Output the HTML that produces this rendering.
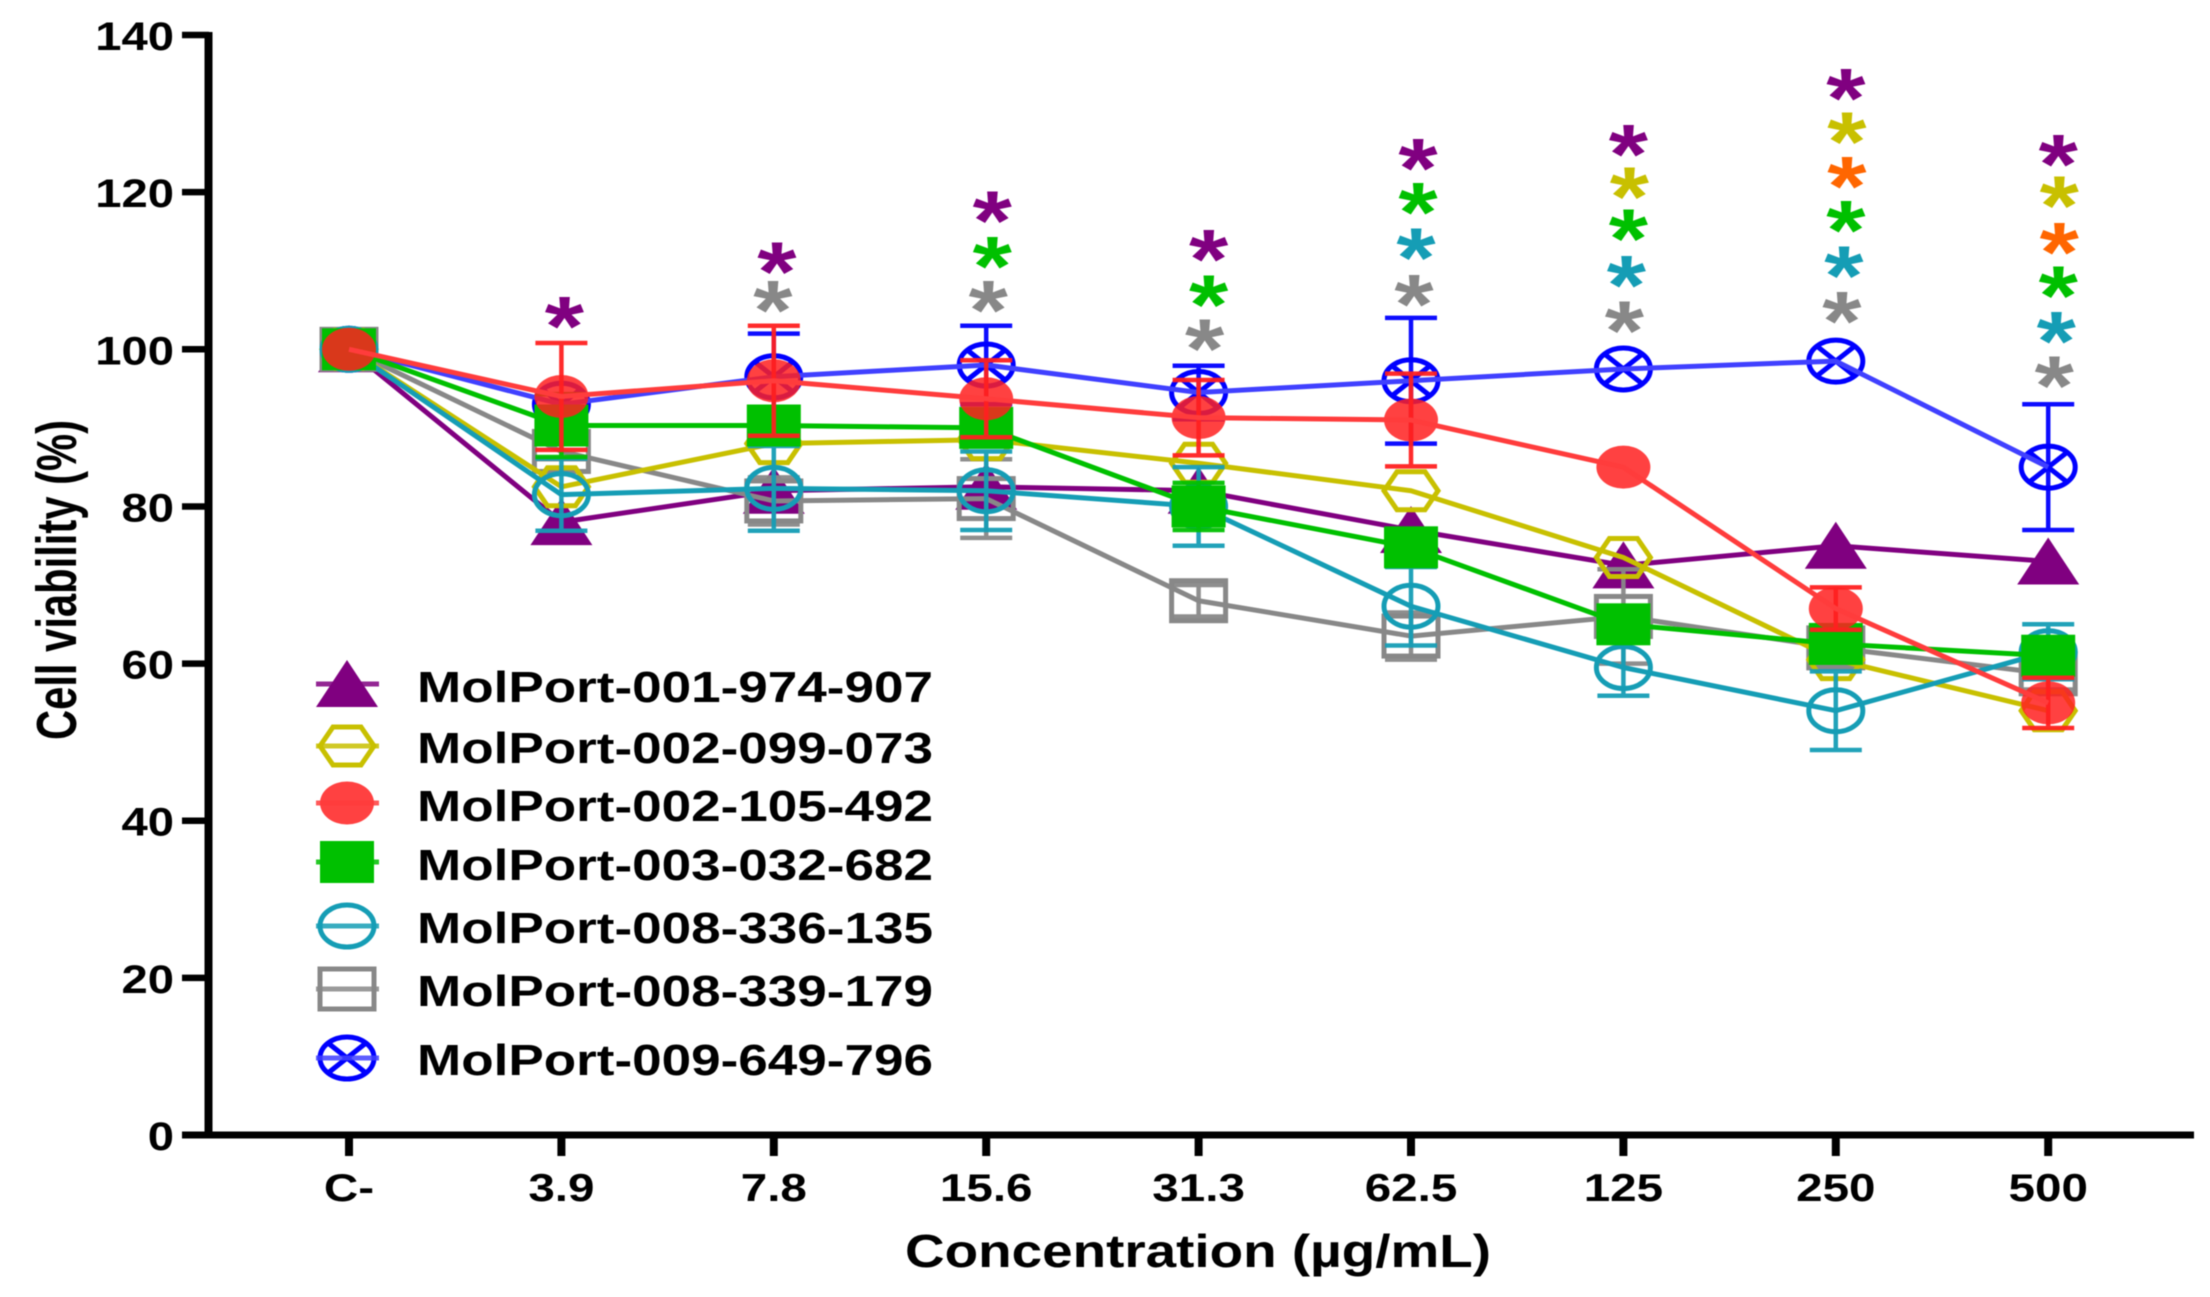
<!DOCTYPE html>
<html lang="en">
<head>
<meta charset="utf-8">
<title>Cell viability chart</title>
<style>
html,body{margin:0;padding:0;background:#fff;width:2210px;height:1297px;overflow:hidden}
svg{display:block;font-family:"Liberation Sans",sans-serif;font-weight:bold;filter:blur(0.5px)}
</style>
</head>
<body>
<svg id="chart" xmlns="http://www.w3.org/2000/svg" width="2210" height="1297" viewBox="0 0 2210 1297">
  <rect x="0" y="0" width="2210" height="1297" fill="#fff"/>
  <g id="stars"></g>
  <g id="plot"></g>
  <g id="axes"></g>
  <g id="legend"></g>
  <text transform="translate(76,740) rotate(-90)" font-size="57" textLength="320" lengthAdjust="spacingAndGlyphs" fill="#000">Cell viability (%)</text>
  <text x="905" y="1267" font-size="46" textLength="586" lengthAdjust="spacingAndGlyphs" fill="#000">Concentration (µg/mL)</text>
</svg>
<script>
const categories = ['C-','3.9','7.8','15.6','31.3','62.5','125','250','500'];
const yTickValues = [0,20,40,60,80,100,120,140];

const names974 = 'MolPort-001-974-907';
const names099 = 'MolPort-002-099-073';
const names105 = 'MolPort-002-105-492';
const names032 = 'MolPort-003-032-682';
const names336 = 'MolPort-008-336-135';
const names339 = 'MolPort-008-339-179';
const names649 = 'MolPort-009-649-796';

const values974 = [100,78,82,82.5,82,77,72.5,75,73];
const values099 = [100,82.5,88,88.5,85.5,82,73.5,60.5,54];
const values105 = [100,94,96,93.7,91.3,91,85,67,55];
const values032 = [100,90.3,90.3,90,80,74.8,65,62.5,61];
const values336 = [100,81.5,82.3,82,80,67.3,59.5,54,61.5];
const values339 = [100,87,80.7,81,68,63.5,66,62,58.7];
const values649 = [100,93,96.5,98,94.5,96,97.5,98.5,85];

const errors974 = [0,0,0,0,0,0,0,0,0];
const errors099 = [0,0,0,0,0,0,0,0,0];
const errors105 = [0,6.8,7,4.9,4.8,5.9,0,2.7,3.2];
const errors032 = [0,4,1,1.5,3,0,0,1,1];
const errors336 = [0,4.6,5.4,5,5,5,3.6,5,3.5];
const errors339 = [0,1,3,5,2,3,6,2,2];
const errors649 = [0,0,5.5,5,3.4,8,0,0,8];

const stars974 = [null,104.5,111.4,117.9,113,124.6,126.4,133.5,125.1];
const stars099 = [null,null,null,null,null,null,121,128,119.8];
const stars105 = [null,null,null,null,null,null,null,122.3,113.9];
const stars032 = [null,null,null,112.1,107.2,119,115.6,116.7,108.4];
const stars336 = [null,null,null,null,null,113.2,109.7,110.9,102.6];
const stars339 = [null,null,106.5,106.5,101.6,107.3,103.9,105.1,96.9];

const NS = 'http://www.w3.org/2000/svg';
const xScale = i => 349 + 212.4 * i;
const yScale = v => 1135 - 7.857 * v;

function make(parent, tag, attrs) {
  const el = document.createElementNS(NS, tag);
  for (const k in attrs) el.setAttribute(k, attrs[k]);
  parent.appendChild(el);
  return el;
}

function drawMarker(parent, kind, color, cx, cy) {
  const g = make(parent, 'g', {});
  
  
  const open = {fill:'none', stroke:color, 'stroke-width':5};
  if (kind === 'triangle') {
    make(g, 'polygon', {points:`${cx},${cy-24} ${cx+31},${cy+23} ${cx-31},${cy+23}`, fill:color});
  } else if (kind === 'hexagon') {
    make(g, 'polygon', Object.assign({points:`${cx-27},${cy} ${cx-14},${cy-19} ${cx+14},${cy-19} ${cx+27},${cy} ${cx+14},${cy+19} ${cx-14},${cy+19}`}, open));
  } else if (kind === 'dot') {
    make(g, 'ellipse', {cx:cx, cy:cy, rx:27, ry:21.5, fill:color, 'fill-opacity':0.85});
  } else if (kind === 'square') {
    make(g, 'rect', {x:cx-27, y:cy-21, width:54, height:42, fill:color});
  } else if (kind === 'circle') {
    make(g, 'ellipse', Object.assign({cx:cx, cy:cy, rx:27, ry:21}, open));
  } else if (kind === 'box') {
    make(g, 'rect', Object.assign({x:cx-27, y:cy-20, width:54, height:40}, open));
  } else if (kind === 'xcircle') {
    make(g, 'ellipse', Object.assign({cx:cx, cy:cy, rx:27, ry:21}, open));
    make(g, 'line', {x1:cx-19, y1:cy-15, x2:cx+19, y2:cy+15, stroke:color, 'stroke-width':5});
    make(g, 'line', {x1:cx-19, y1:cy+15, x2:cx+19, y2:cy-15, stroke:color, 'stroke-width':5});
  }
}

const seriesList = [
  {key:'974', name:names974, values:values974, errors:errors974, color:'#800080', line:'#800080', kind:'triangle'},
  {key:'099', name:names099, values:values099, errors:errors099, color:'#c8c000', line:'#c8c000', kind:'hexagon'},
  {key:'105', name:names105, values:values105, errors:errors105, color:'#ff2020', line:'#ff3c3c', kind:'dot'},
  {key:'032', name:names032, values:values032, errors:errors032, color:'#00c000', line:'#00c000', kind:'square'},
  {key:'336', name:names336, values:values336, errors:errors336, color:'#159db5', line:'#159db5', kind:'circle'},
  {key:'339', name:names339, values:values339, errors:errors339, color:'#888888', line:'#888888', kind:'box'},
  {key:'649', name:names649, values:values649, errors:errors649, color:'#0000ff', line:'#4040ff', kind:'xcircle'}
];
const drawOrder = ['974','649','339','099','336','032','105'];

const plot = document.getElementById('plot');
drawOrder.forEach(key => {
  const s = seriesList.find(d => d.key === key);
  const g = make(plot, 'g', {});
  
  
  s.values.forEach((v, i) => {
    const err = s.errors[i];
    if (!err) return;
    const x = xScale(i), top = yScale(v + err), bot = yScale(v - err);
    const bar = make(g, 'path', {d:`M${x-26},${top}H${x+26}M${x},${top}V${bot}M${x-26},${bot}H${x+26}`, fill:'none', stroke:s.color, 'stroke-width':4.5, 'stroke-opacity':0.95});
    
    
  });
  s.values.forEach((v, i) => drawMarker(g, s.kind, s.color, xScale(i), yScale(v)));
  const line = make(g, 'polyline', {points:s.values.map((v, i) => xScale(i) + ',' + yScale(v)).join(' '), fill:'none', stroke:s.line, 'stroke-width':5, 'stroke-linejoin':'round'});
  
  
});

const starSeries = [
  {values:stars974, color:'#800080', nudge:0},
  {values:stars099, color:'#c8c000', nudge:1},
  {values:stars105, color:'#ff6600', nudge:1},
  {values:stars032, color:'#00c000', nudge:0},
  {values:stars336, color:'#159db5', nudge:-2},
  {values:stars339, color:'#888888', nudge:-4}
];
const starsLayer = document.getElementById('stars');
const columnNudge = i => [0,3,3,6,10,7,5,10,10][i];
starSeries.forEach(s => {
  s.values.forEach((v, i) => {
    if (v === null) return;
    const cx = xScale(i) + columnNudge(i) + s.nudge;
    const cy = yScale(v);
    const t = make(starsLayer, 'text', {transform:`translate(${cx},${cy + 41}) scale(1.2,1)`, 'text-anchor':'middle', 'font-size':84, 'font-weight':'bold', fill:s.color});
    
    
    t.textContent = '*';
  });
});

const axes = document.getElementById('axes');
const yAxis = make(axes, 'line', {x1:208.5, y1:32, x2:208.5, y2:1138.5, stroke:'#000', 'stroke-width':8});


const xAxis = make(axes, 'line', {x1:182, y1:1135, x2:2194, y2:1135, stroke:'#000', 'stroke-width':7});



yTickValues.forEach(v => {
  const y = yScale(v);
  const tick = make(axes, 'line', {x1:182, y1:y, x2:209, y2:y, stroke:'#000', 'stroke-width':6.5});
  
  
  const t = make(axes, 'text', {transform:`translate(174,${y + 15}) scale(1.18,1)`, 'text-anchor':'end', 'font-size':40, fill:'#000'});
  
  
  t.textContent = String(v);
});

categories.forEach((c, i) => {
  const x = xScale(i);
  const tick = make(axes, 'line', {x1:x, y1:1135, x2:x, y2:1156, stroke:'#000', 'stroke-width':8});
  
  
  const t = make(axes, 'text', {transform:`translate(${x},1201) scale(1.22,1)`, 'text-anchor':'middle', 'font-size':39, fill:'#000'});
  
  
  t.textContent = c;
});

const legendLayer = document.getElementById('legend');
const legendRowY = [684,746,803,862,926,989,1058];
const legendBaseY = [702,763,821,880,943,1006,1075];
seriesList.forEach((s, i) => {
  const g = make(legendLayer, 'g', {});
  
  
  drawMarker(g, s.kind, s.color, 347, legendRowY[i]);
  const swatch = make(g, 'line', {x1:316, y1:legendRowY[i], x2:379, y2:legendRowY[i], stroke:s.line, 'stroke-width':5, 'stroke-opacity':0.85});
  
  
  const t = make(g, 'text', {x:417, y:legendBaseY[i], 'font-size':44, textLength:516, lengthAdjust:'spacingAndGlyphs', fill:'#000'});
  
  
  t.textContent = s.name;
});
</script>
</body>
</html>
